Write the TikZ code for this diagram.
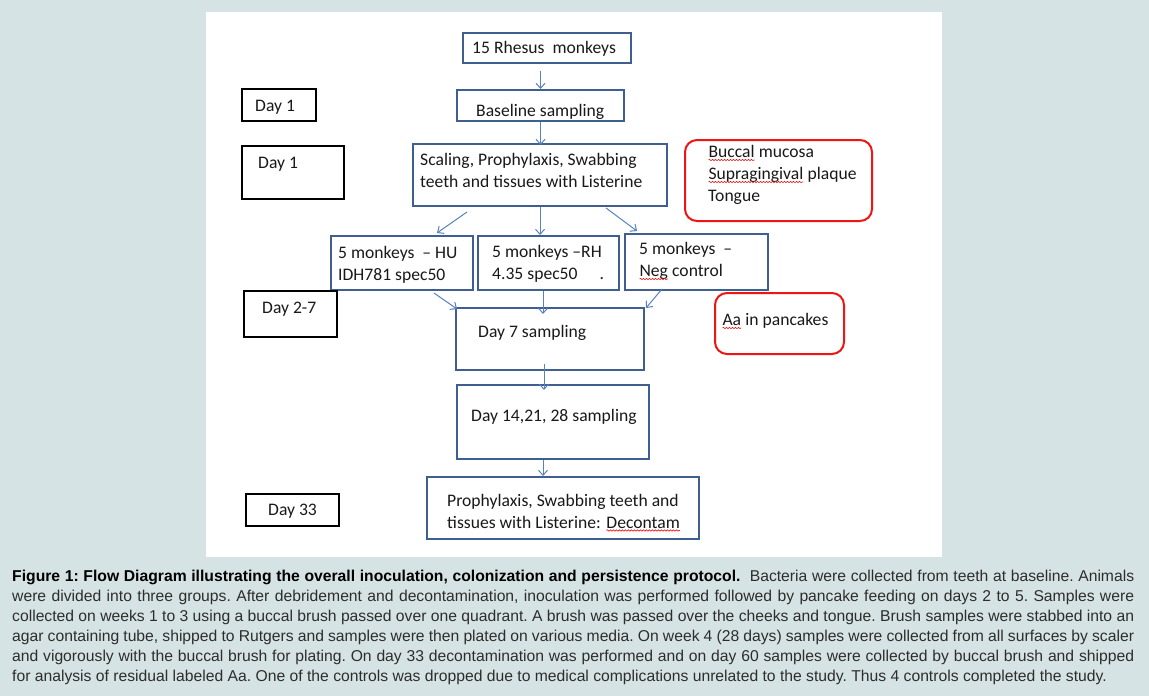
\documentclass[tikz,border=0pt]{standalone}
\usepackage{fontspec}
\usetikzlibrary{arrows.meta,decorations.pathmorphing}
\newfontfamily\calib{Carlito}
\newfontfamily\capfont{Liberation Sans}
\definecolor{bgc}{RGB}{214,227,228}
\definecolor{bluec}{RGB}{63,95,145}
\definecolor{arrc}{RGB}{88,130,190}
\definecolor{redc}{RGB}{240,20,20}
\definecolor{txtc}{RGB}{25,25,25}
\definecolor{capc}{RGB}{45,45,45}
\newcommand\sq[1]{\tikz[baseline=(sqw.base)]{\node[inner sep=0pt,outer sep=0pt,anchor=base](sqw){#1};\draw[redc,line width=0.6pt,decorate,decoration={snake,amplitude=0.7pt,segment length=3pt}]([yshift=-2.5pt]sqw.base west)--([yshift=-2.5pt]sqw.base east);}}
\newcommand\twol[2]{\vtop{\hbox{#1}\hbox{#2}}}
\newcommand\threel[3]{\vtop{\hbox{#1}\hbox{#2}\hbox{#3}}}
\newcommand\capline[1]{\hbox{\makebox[1122pt][s]{#1}}}
\tikzset{
  bbox/.style={draw=bluec, line width=2pt, fill=white, inner sep=0pt},
  kbox/.style={draw=black, line width=2.2pt, fill=white, inner sep=0pt},
  rbox/.style={draw=redc, line width=2pt, fill=white, rounded corners=12pt, inner sep=0pt},
  txt/.style={font=\fontsize{17.6}{22}\selectfont\calib, text=txtc, inner sep=0pt, anchor=base west},
  arr/.style={draw=arrc, line width=1pt, -{Straight Barb[length=5pt,width=9pt,line width=1pt]}}
}
\begin{document}
\begin{tikzpicture}[x=1pt,y=-1pt]
\fill[bgc] (0,0) rectangle (1149,696);
\useasboundingbox (0,0) rectangle (1149,696);
\fill[white] (206,12) rectangle (942,557);
% boxes
\node[bbox, minimum width=168pt, minimum height=30pt] (rhesus) at (547,48) {};
\node[kbox, minimum width=74pt, minimum height=32pt] (day1a) at (279,105) {};
\node[bbox, minimum width=167pt, minimum height=31pt] (base) at (540.5,105.5) {};
\node[kbox, minimum width=102pt, minimum height=53pt] (day1b) at (293,172.5) {};
\node[bbox, minimum width=254pt, minimum height=62pt] (scal) at (540,175) {};
\node[rbox, minimum width=187pt, minimum height=81pt] (red1) at (778.5,180.5) {};
\node[bbox, minimum width=142pt, minimum height=54pt] (hu) at (402,263) {};
\node[bbox, minimum width=141pt, minimum height=54pt] (rh) at (548.5,263) {};
\node[bbox, minimum width=143pt, minimum height=56pt] (neg) at (696.5,262) {};
\node[kbox, minimum width=93pt, minimum height=46pt] (day27) at (290.5,314) {};
\node[bbox, minimum width=188pt, minimum height=62pt] (day7) at (550,339) {};
\node[rbox, minimum width=129pt, minimum height=61pt] (aa) at (779.5,323.5) {};
\node[bbox, minimum width=192pt, minimum height=74pt] (d14) at (553,422) {};
\node[bbox, minimum width=272pt, minimum height=62pt] (proph) at (563,508) {};
\node[kbox, minimum width=93pt, minimum height=32pt] (day33) at (292.5,510) {};
% texts
\node[txt] (trhesus) at (472,53.5) {15 Rhesus\ \ monkeys};
\node[txt] (tday1a) at (255,111) {Day 1};
\node[txt] (tbase) at (476,116) {Baseline sampling};
\node[txt] (tday1b) at (258,168) {Day 1};
\node[txt] (tscal) at (420,165.5) {\twol{Scaling, Prophylaxis, Swabbing}{teeth and tissues with Listerine}};
\node[txt] (tred1) at (708,157.5) {\threel{\sq{Buccal} mucosa}{\sq{Supragingival} plaque}{Tongue}};
\node[txt] (thu) at (338,258.5) {\twol{5 monkeys\ \ – HU}{IDH781 spec50}};
\node[txt] (trh) at (492,257) {\twol{5 monkeys –RH}{4.35 spec50\hspace{22pt}.}};
\node[txt] (tneg) at (639,254.5) {\twol{5 monkeys\ \ –}{\sq{Neg} control}};
\node[txt] (tday27) at (262,313) {Day 2-7};
\node[txt] (tday7) at (478,337.5) {Day 7 sampling};
\node[txt] (taa) at (722,325.5) {\sq{Aa} in pancakes};
\node[txt] (td14) at (471,421) {Day 14,21, 28 sampling};
\node[txt] (tproph) at (447,506) {\twol{Prophylaxis, Swabbing teeth and}{tissues with Listerine: \sq{Decontam}}};
\node[txt] (tday33) at (268,515.5) {Day 33};
% arrows
\draw[arr] ([yshift=-7pt]rhesus.south -| base.north) -- (base.north);
\draw[arr] (base.south) -- ([yshift=-2pt]base.south |- scal.north);
\draw[arr] ([xshift=-73pt,yshift=-5pt]scal.south) -- ([xshift=35pt,yshift=2pt]hu.north);
\draw[arr] (scal.south) -- (scal.south |- rh.north);
\draw[arr] ([xshift=66pt,yshift=-1pt]scal.south) -- ([xshift=-59.5pt,yshift=2pt]neg.north);
\draw[arr] ([xshift=32pt,yshift=-2pt]hu.south) -- ([xshift=2pt,yshift=-2pt]day7.north west);
\draw[arr] ([xshift=-5.5pt]rh.south) -- ([xshift=-5.5pt,yshift=-7pt]rh.south |- day7.north);
\draw[arr] ([xshift=-34.5pt,yshift=2pt]neg.south) -- ([xshift=1pt,yshift=-1pt]day7.north east);
\draw[arr] ([xshift=-6pt,yshift=7pt]day7.south) -- ([xshift=-6pt,yshift=-6pt]day7.south |- d14.north);
\draw[arr] ([xshift=-10pt]d14.south) -- ([xshift=-10pt]d14.south |- proph.north);
% caption
\node[inner sep=0pt, anchor=base west, text=capc, font=\fontsize{15.7}{20}\selectfont\capfont\frenchspacing] (cap) at (12,581) {\vtop{%
\capline{\textbf{\color{black}Figure 1: Flow Diagram illustrating the overall inoculation, colonization and persistence protocol.}\ \ Bacteria were collected from teeth at baseline. Animals}
\capline{were divided into three groups. After debridement and decontamination, inoculation was performed followed by pancake feeding on days 2 to 5. Samples were}
\capline{collected on weeks 1 to 3 using a buccal brush passed over one quadrant. A brush was passed over the cheeks and tongue. Brush samples were stabbed into an}
\capline{agar containing tube, shipped to Rutgers and samples were then plated on various media. On week 4 (28 days) samples were collected from all surfaces by scaler}
\capline{and vigorously with the buccal brush for plating. On day 33 decontamination was performed and on day 60 samples were collected by buccal brush and shipped}
\hbox{for analysis of residual labeled Aa. One of the controls was dropped due to medical complications unrelated to the study. Thus 4 controls completed the study.}}};
\end{tikzpicture}
\end{document}
